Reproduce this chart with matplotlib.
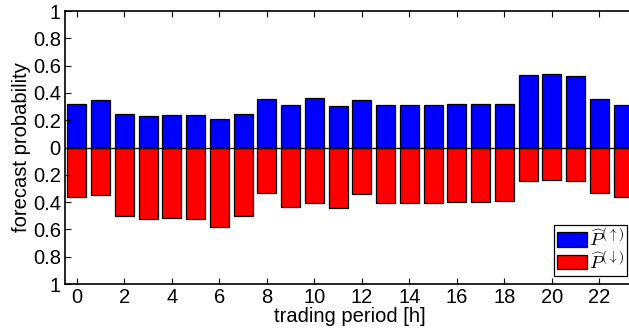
import matplotlib
matplotlib.use("Agg")
import matplotlib.pyplot as plt
import numpy as np

# ----------------------------------------
# Data
# ----------------------------------------
hours = list(range(24))
p_up = [0.317, 0.347, 0.244, 0.232, 0.240, 0.237, 0.207, 0.244,
        0.352, 0.308, 0.361, 0.303, 0.347, 0.315, 0.310, 0.310,
        0.317, 0.317, 0.320, 0.530, 0.535, 0.527, 0.354, 0.315]
p_down = [0.361, 0.347, 0.503, 0.523, 0.520, 0.523, 0.579, 0.503,
          0.332, 0.435, 0.405, 0.442, 0.339, 0.403, 0.410, 0.410,
          0.396, 0.396, 0.393, 0.244, 0.237, 0.242, 0.330, 0.359]
y_ticks = [-1, -0.8, -0.6, -0.4, -0.2, 0, 0.2, 0.4, 0.6, 0.8, 1]
y_tick_labels = ["1", "0.8", "0.6", "0.4", "0.2", "0", "0.2", "0.4", "0.6", "0.8", "1"]
x_ticks = list(range(0, 24, 2))

plt.rcParams["font.family"] = ["Liberation Sans", "DejaVu Sans"]
plt.rcParams["mathtext.fontset"] = "cm"

fig = plt.figure(figsize=(6.29, 3.34), dpi=100)
ax = fig.add_axes([65 / 629, 1 - 284 / 334, (635 - 65) / 629, (284 - 11) / 334])

ax.bar(hours, p_up, width=0.8, color="#0000ff", edgecolor="black",
       linewidth=0.9, label=r"$\widehat{P}^{(\uparrow)}$")
ax.bar(hours, [-v for v in p_down], width=0.8, color="#ff0000",
       edgecolor="black", linewidth=0.9, label=r"$\widehat{P}^{(\downarrow)}$")
ax.axhline(0, color="black", linewidth=1.0)

ax.set_xlim(-0.5, 23.5)
ax.set_ylim(-1, 1)
ax.set_xticks(x_ticks)
ax.set_yticks(y_ticks)
ax.set_yticklabels(y_tick_labels)
ax.tick_params(direction="in", top=True, right=True, labelsize=14.5,
               length=4, width=0.8, pad=3)
for s in ax.spines.values():
    s.set_linewidth(1.2)

ax.set_xlabel("trading period [h]", fontsize=14.5, labelpad=0)
ax.set_ylabel("forecast probability", fontsize=14.5, labelpad=1)

leg = ax.legend(loc="lower right", fontsize=13.5, frameon=True, fancybox=False,
                edgecolor="black", framealpha=1, borderaxespad=0.45,
                handlelength=1.6, handleheight=0.8, handletextpad=0.1,
                labelspacing=0.02, borderpad=0.15)
leg.get_frame().set_linewidth(0.9)

fig.savefig("out.png", dpi=100)
